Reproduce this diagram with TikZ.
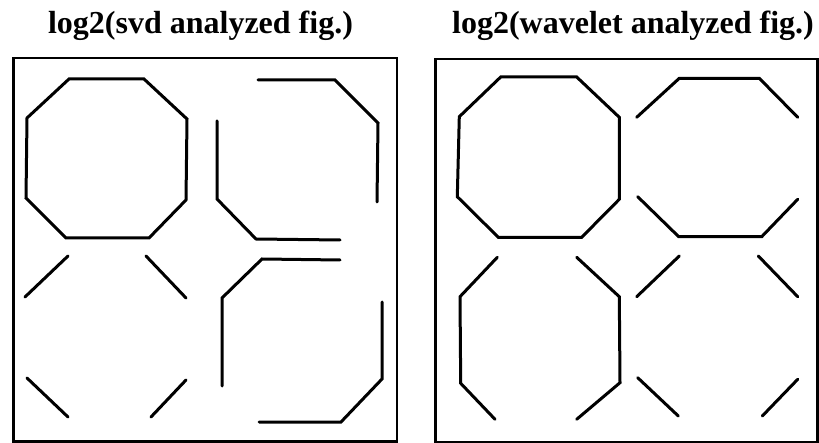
\documentclass[tikz,border=0pt]{standalone}
\usepackage{fontspec}
\setmainfont{Liberation Serif}
\begin{document}
\begin{tikzpicture}[x=1pt,y=-1pt,
  framebox/.style={line width=2.4pt},
  stroke/.style={line width=3pt,line cap=round,line join=miter},
  title/.style={font=\bfseries\fontsize{32}{34}\selectfont,anchor=base,inner sep=0pt}]
\useasboundingbox (0,0) rectangle (819,443);
% titles
\node[title] (t1) at (200.5,34) {log2(svd analyzed fig.)};
\node[title] (t2) at (633,34) {log2(wavelet analyzed fig.)};
% frames
\draw[framebox] (13.5,58) rectangle (397,441.5);
\draw[framebox] (435.5,59) rectangle (817.5,441.8);
% ---- left panel ----
\draw[stroke] (69,79) -- (144,79) -- (187,119) -- (186,200) -- (149,238) -- (66,238) -- (26,198) -- (27,118) -- cycle;
\draw[stroke] (258,80) -- (335,80) -- (378,123) -- (377,202);
\draw[stroke] (217,121) -- (217,199) -- (256,239) -- (340,240);
\draw[stroke] (68,256) -- (25,297);
\draw[stroke] (146,256) -- (186,298);
\draw[stroke] (27,378) -- (68,417);
\draw[stroke] (186,380) -- (151,417);
\draw[stroke] (340,260) -- (262,259) -- (222,298) -- (222,386);
\draw[stroke] (382,302) -- (382,379) -- (341,422) -- (259,422);
% ---- right panel ----
\draw[stroke] (500.7,77) -- (576.7,77) -- (619.3,117.3) -- (619.3,199.3) -- (581.7,237.3) -- (498.3,237.3) -- (457.3,196.7) -- (459.3,116.7) -- cycle;
\draw[stroke] (636.7,117.3) -- (679.3,78.3) -- (759.3,78.3) -- (797.7,117.3);
\draw[stroke] (637.7,196.7) -- (678.7,236.7) -- (761.7,236.7) -- (797.7,199.3);
\draw[stroke] (497.3,257.3) -- (460,296.7) -- (460.7,383.3) -- (495,419.3);
\draw[stroke] (576.7,257.3) -- (619.3,296.7) -- (620,382.7) -- (576.7,419.3);
\draw[stroke] (679.3,256) -- (636.7,296.7);
\draw[stroke] (758.3,256) -- (797.7,296.7);
\draw[stroke] (637.7,377.7) -- (678.3,416);
\draw[stroke] (797.7,379.3) -- (762.3,416);
\end{tikzpicture}
\end{document}
